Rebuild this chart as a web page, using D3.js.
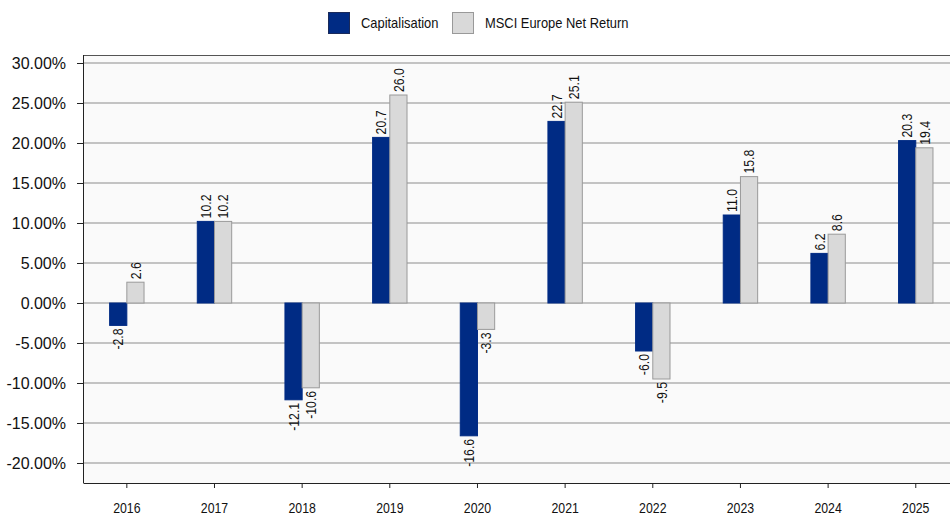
<!DOCTYPE html>
<html><head><meta charset="utf-8">
<script src="https://cdn.jsdelivr.net/npm/d3@7"></script>
<style>body{margin:0;background:#fff;} svg{display:block;font-family:"Liberation Sans",Arial,sans-serif;}</style>
</head><body><svg id="c" width="950" height="515"></svg>
<script>
const years = ["2016","2017","2018","2019","2020","2021","2022","2023","2024","2025"];
const capitalisation = [-2.8, 10.2, -12.1, 20.7, -16.6, 22.7, -6.0, 11.0, 6.2, 20.3];
const msci = [2.6, 10.2, -10.6, 26.0, -3.3, 25.1, -9.5, 15.8, 8.6, 19.4];
const seriesNames = ["Capitalisation", "MSCI Europe Net Return"];
const yTicks = [-20, -15, -10, -5, 0, 5, 10, 15, 20, 25, 30];
const colors = ["#002b84", "#d9d9d9"];
const strokes = ["#002b84", "#9a9a9a"];

const regular = "'Liberation Sans',Arial,sans-serif";
// condense a text selection horizontally (narrow-font look)
function narrowText(sel, k) {
  sel.each(function () {
    const w = this.getComputedTextLength();
    d3.select(this).attr("textLength", w * k).attr("lengthAdjust", "spacingAndGlyphs");
  });
}

const svg = d3.select("#c");
const L = 83, R = 959.6, T = 55, B = 483;
const x = d3.scaleBand().domain(years).range([L, R]).paddingInner(0).paddingOuter(0);
const y = d3.scaleLinear().domain([-22.5, 31]).range([B, T]);
const bw = 17.2;

svg.append("rect").attr("x", L).attr("y", T).attr("width", R - L).attr("height", B - T).attr("fill", "#fafafa");

svg.append("g").selectAll("line").data(yTicks).join("line")
  .attr("x1", L).attr("x2", R).attr("y1", d => y(d)).attr("y2", d => y(d))
  .attr("stroke", "#8c8c8c").attr("stroke-width", 1);

svg.append("line").attr("x1", L).attr("x2", R).attr("y1", T + 0.5).attr("y2", T + 0.5).attr("stroke", "#555");

const series = [capitalisation, msci];
series.forEach((vals, si) => {
  const g = svg.append("g");
  g.selectAll("rect").data(vals).join("rect")
    .attr("x", (d, i) => x(years[i]) + x.bandwidth() / 2 - bw + si * bw)
    .attr("y", d => y(Math.max(0, d)))
    .attr("width", bw)
    .attr("height", d => Math.abs(y(d) - y(0)))
    .attr("fill", colors[si]).attr("stroke", strokes[si]).attr("stroke-width", 1);
  const t = g.selectAll("text").data(vals).join("text")
    .attr("transform", (d, i) => {
      const cx = x(years[i]) + x.bandwidth() / 2 - bw / 2 + si * bw;
      const yy = d >= 0 ? y(d) - 3 : y(d) + 3;
      return `translate(${cx},${yy}) rotate(-90)`;
    })
    .attr("dy", "0.35em")
    .attr("text-anchor", d => d >= 0 ? "start" : "end")
    .attr("font-size", 15).attr("fill", "#111")
    .text(d => d.toFixed(1));
  narrowText(t, 0.82);
});

const yAxis = d3.axisLeft(y).tickValues(yTicks).tickSize(6).tickFormat(d => d.toFixed(2) + "%");
const ya = svg.append("g").attr("transform", `translate(${L},0)`).call(yAxis);
ya.select(".domain").attr("d", `M0.5,${T}V${B}`).attr("stroke", "#222");
ya.selectAll(".tick line").attr("stroke", "#222");
ya.selectAll(".tick text").attr("font-size", 16).attr("fill", "#111").attr("x", -17).attr("font-family", regular);

const xAxis = d3.axisBottom(x).tickSize(5).tickSizeOuter(0);
const xa = svg.append("g").attr("transform", `translate(0,${B})`).call(xAxis);
xa.select(".domain").attr("stroke", "#222");
xa.selectAll(".tick line").attr("stroke", "#222");
const xt = xa.selectAll(".tick text").attr("font-size", 15).attr("fill", "#111").attr("y", 19).attr("font-family", regular);
narrowText(xt, 0.82);

const legX = [328, 452];
seriesNames.forEach((n, i) => {
  svg.append("rect").attr("x", legX[i] + 0.5).attr("y", 12.5).attr("width", 21).attr("height", 21)
    .attr("fill", colors[i]).attr("stroke", i === 0 ? "#1a2a5a" : "#999");
  const lt = svg.append("text").attr("x", legX[i] + 33).attr("y", 23).attr("dy", "0.35em")
    .attr("font-size", 15).attr("fill", "#111").text(n);
  narrowText(lt, 0.86);
});
</script></body></html>
